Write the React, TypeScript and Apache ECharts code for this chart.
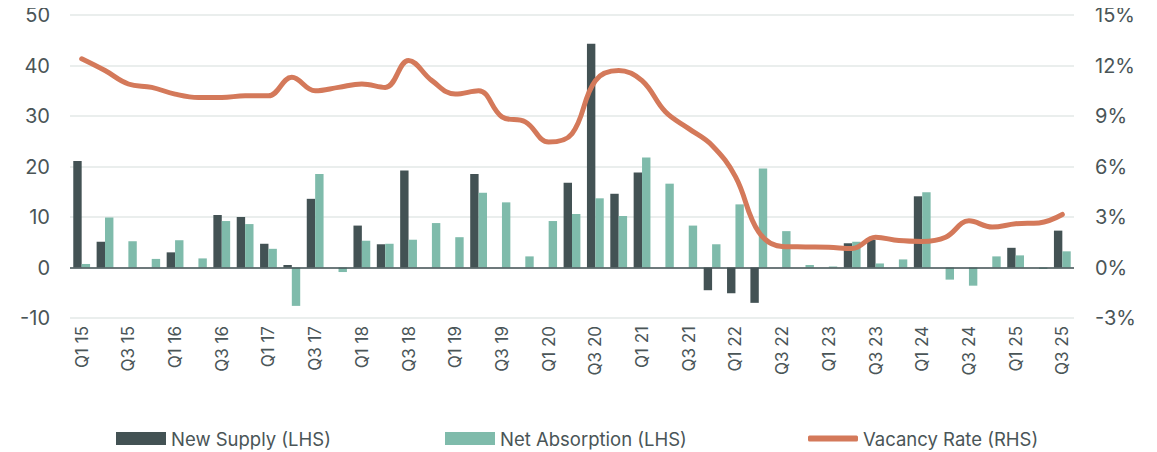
import React, { useEffect, useRef } from "react";
import * as echarts from "echarts";

const quarters: string[] = [];
for (let y = 15; y <= 25; y++) {
  for (let q = 1; q <= 4; q++) {
    if (y === 25 && q > 3) break;
    quarters.push(`Q${q} ${y}`);
  }
}

const newSupply: (number | null)[] = [
  21.1, 5.1, null, null, 3.0, null, 10.4, 10.0, 4.7, 0.5,
  13.6, null, 8.3, 4.6, 19.2, null, null, 18.5, null, null,
  null, 16.8, 44.3, 14.6, 18.8, null, null, -4.5, -5.1, -7.0,
  null, null, null, 4.8, 5.5, null, 14.1, null, null, null,
  3.9, null, 7.3,
];

const netAbsorption: number[] = [
  0.7, 9.9, 5.2, 1.7, 5.4, 1.8, 9.2, 8.6, 3.7, -7.6,
  18.5, -0.9, 5.3, 4.7, 5.5, 8.8, 6.0, 14.8, 12.9, 2.2,
  9.2, 10.6, 13.7, 10.2, 21.8, 16.6, 8.3, 4.6, 12.5, 19.6,
  7.2, 0.5, 0.2, 5.1, 0.8, 1.6, 14.9, -2.4, -3.6, 2.2,
  2.4, -0.3, 3.2,
];

const vacancyRate: number[] = [
  12.4, 11.7, 10.9, 10.7, 10.3, 10.1, 10.1, 10.2, 10.2, 11.3,
  10.5, 10.7, 10.9, 10.7, 12.3, 11.1, 10.3, 10.5, 8.95, 8.65,
  7.45, 7.95, 11.1, 11.7, 11.1, 9.25, 8.25, 7.25, 5.4, 2.1,
  1.25, 1.22, 1.2, 1.13, 1.8, 1.6, 1.55, 1.8, 2.77, 2.4,
  2.6, 2.65, 3.15,
];

const leftTicks = { min: -10, max: 50, interval: 10 };
const rightTicks = { min: -3, max: 15, interval: 3 };

const DARK = "#435254";
const TEAL = "#7fbbab";
const ORANGE = "#d4795a";
const TEXT = "#4a5557";
const FONT = "Inter";

export default function App() {
  const ref = useRef<HTMLDivElement>(null);
  useEffect(() => {
    if (!ref.current) return;
    const chart = echarts.init(ref.current, undefined, { renderer: "svg" });
    const legendText = { color: TEXT, fontSize: 18.5, fontFamily: FONT };
    chart.setOption({
      animation: false,
      grid: { left: 70, right: 83, top: 15, bottom: 134, containLabel: false },
      legend: [
        {
          data: ["New Supply (LHS)"],
          left: 111,
          top: 424,
          itemWidth: 50,
          itemHeight: 13,
          itemGap: 5,
          textStyle: legendText,
          icon: "rect",
        },
        {
          data: ["Net Absorption (LHS)"],
          left: 440,
          top: 424,
          itemWidth: 50,
          itemHeight: 13,
          textStyle: legendText,
          icon: "rect",
        },
        {
          data: ["Vacancy Rate (RHS)"],
          left: 803,
          top: 424,
          itemWidth: 50,
          itemHeight: 6,
          textStyle: legendText,
          icon: "roundRect",
        },
      ],
      xAxis: {
        type: "category",
        data: quarters,
        axisLine: { show: false, onZero: false },
        axisTick: { show: false },
        axisLabel: {
          interval: 1,
          rotate: 90,
          color: TEXT,
          fontSize: 17,
          fontFamily: FONT,
          margin: 8,
        },
      },
      yAxis: [
        {
          type: "value",
          ...leftTicks,
          axisLine: { show: false },
          axisTick: { show: false },
          splitLine: { lineStyle: { color: "#e3e8e7", width: 1.5 } },
          axisLabel: { color: TEXT, fontSize: 20, fontFamily: FONT, margin: 20 },
        },
        {
          type: "value",
          ...rightTicks,
          position: "right",
          axisLine: { show: false },
          axisTick: { show: false },
          splitLine: { show: false },
          axisLabel: {
            color: TEXT,
            fontSize: 20,
            fontFamily: FONT,
            margin: 21,
            formatter: "{value}%",
          },
        },
      ],
      series: [
        {
          name: "New Supply (LHS)",
          type: "bar",
          data: newSupply,
          barWidth: 8.4,
          barGap: "0%",
          itemStyle: { color: DARK },
          markLine: {
            silent: true,
            symbol: "none",
            label: { show: false },
            lineStyle: { color: DARK, width: 1.5, type: "solid" },
            data: [{ yAxis: 0 }],
          },
        },
        {
          name: "Net Absorption (LHS)",
          type: "bar",
          data: netAbsorption,
          barWidth: 8.4,
          itemStyle: { color: TEAL },
        },
        {
          name: "Vacancy Rate (RHS)",
          type: "line",
          yAxisIndex: 1,
          data: vacancyRate,
          smooth: 0.4,
          symbol: "none",
          lineStyle: { color: ORANGE, width: 5, cap: "round" },
          itemStyle: { color: ORANGE },
          z: 5,
        },
      ],
    });
    return () => chart.dispose();
  }, []);
  return <div ref={ref} style={{ width: 1157, height: 452, marginLeft: -8, marginTop: -8 }} />;
}
